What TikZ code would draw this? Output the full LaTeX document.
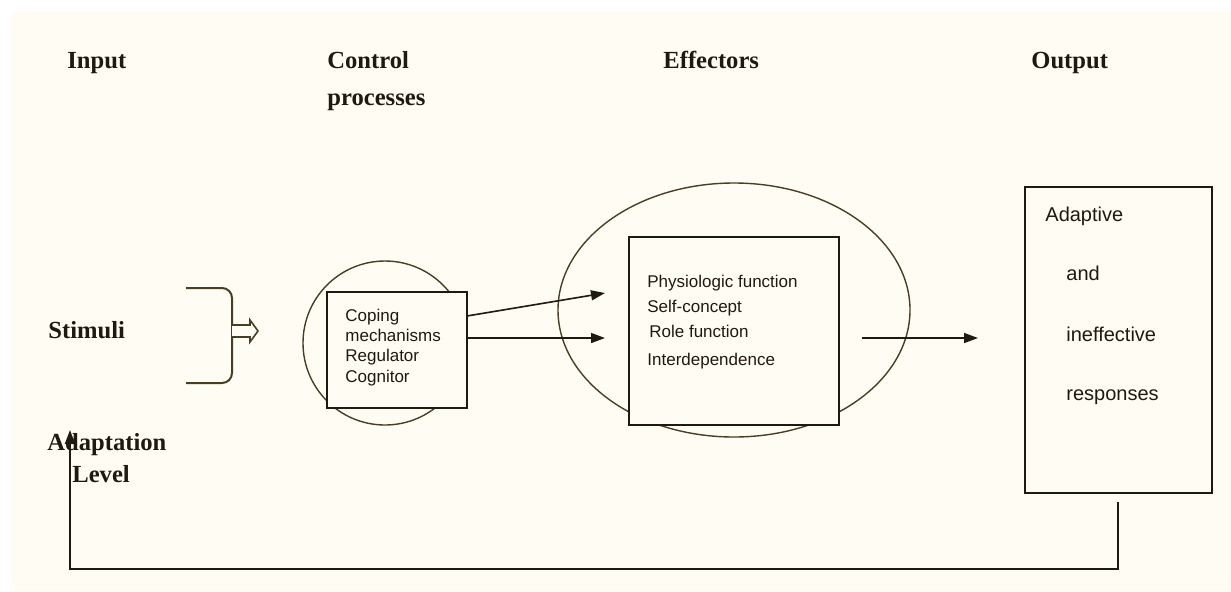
\documentclass[tikz,border=0pt]{standalone}
\usepackage{fontspec}
\setmainfont{Liberation Serif}
\newfontfamily\sansf{Liberation Sans}
\usetikzlibrary{arrows.meta,shapes.geometric}
\definecolor{cream}{RGB}{255,252,243}
\definecolor{ink}{RGB}{30,26,18}
\definecolor{olive}{RGB}{72,62,38}
\begin{document}
\begin{tikzpicture}[x=0.5pt,y=-0.5pt,
 hdr/.style={anchor=base west,inner sep=0,text=ink,font=\fontsize{12.3}{14}\selectfont\bfseries},
 txt/.style={anchor=base west,inner sep=0,text=ink,font=\sansf\fontsize{8.5}{10}\selectfont},
 bigtxt/.style={anchor=base west,inner sep=0,text=ink,font=\sansf\fontsize{10}{12}\selectfont},
 box/.style={draw=ink,fill=cream,line width=0.8pt,rectangle,inner sep=0},
 oval/.style={draw=olive,line width=0.7pt,ellipse,inner sep=0},
 conn/.style={draw=ink,line width=0.8pt,-{Triangle[length=7pt,width=5pt]}}
]
\useasboundingbox (0,0) rectangle (1231,591);
\fill[white] (0,0) rectangle (1231,591);
\fill[cream] (12,12) rectangle (1231,591);

% headers
\node[hdr] (hinput) at (67,68) {Input};
\node[hdr] (hcontrol) at (327,68) {Control};
\node[hdr] (hproc) at (327,105) {processes};
\node[hdr] (heff) at (663,68) {Effectors};
\node[hdr] (hout) at (1031,68) {Output};
\node[hdr] (stim) at (48,338) {Stimuli};
\node[hdr] (adapt) at (47,450) {Adaptation};
\node[hdr] (level) at (72,482) {Level};

% bracket and hollow arrow
\draw[olive,line width=1pt,rounded corners=5pt] (186,288) -- (232,288) -- (232,383) -- (186,383);
\draw[olive,line width=0.8pt,fill=cream] (232,325) -- (250,325) -- (250,320) -- (258,331) -- (250,342) -- (250,337) -- (232,337);

% control
\node[oval,minimum width=82pt,minimum height=82pt] (ctrlcircle) at (385,343) {};
\node[box,minimum width=70pt,minimum height=58pt] (ctrl) at (397,350) {};
\node[txt] (t1) at (345,321) {Coping};
\node[txt] (t2) at (345,341) {mechanisms};
\node[txt] (t3) at (345,361) {Regulator};
\node[txt] (t4) at (345,382) {Cognitor};

% effectors
\node[oval,minimum width=176pt,minimum height=127pt] (effoval) at (734,310) {};
\node[box,minimum width=105pt,minimum height=94pt] (eff) at (734,331) {};
\node[txt] (e1) at (647,287) {Physiologic function};
\node[txt] (e2) at (647,312) {Self-concept};
\node[txt] (e3) at (649,337) {Role function};
\node[txt] (e4) at (647,365) {Interdependence};

% output
\node[box,minimum width=93.5pt,minimum height=153pt] (out) at (1118.5,340) {};
\node[bigtxt] (o1) at (1045,221) {Adaptive};
\node[bigtxt] (o2) at (1066,280) {and};
\node[bigtxt] (o3) at (1066,341) {ineffective};
\node[bigtxt] (o4) at (1066,400) {responses};

% connectors
\coordinate (a1s) at (467,316);
\coordinate (a1e) at (605,293);
\coordinate (a2s) at (467,338);
\coordinate (a2e) at (605,338);
\coordinate (a3s) at (862,338);
\coordinate (a3e) at (978,338);
\draw[conn] (a1s) -- (a1e);
\draw[conn] (a2s) -- (a2e);
\draw[conn] (a3s) -- (a3e);

\coordinate (fbs) at (1118,502);
\coordinate (fbc) at (70,569);
\coordinate (fbe) at (70,430);
\draw[conn,line width=1pt] (fbs) |- (fbc) -- (fbe);
\end{tikzpicture}
\end{document}
